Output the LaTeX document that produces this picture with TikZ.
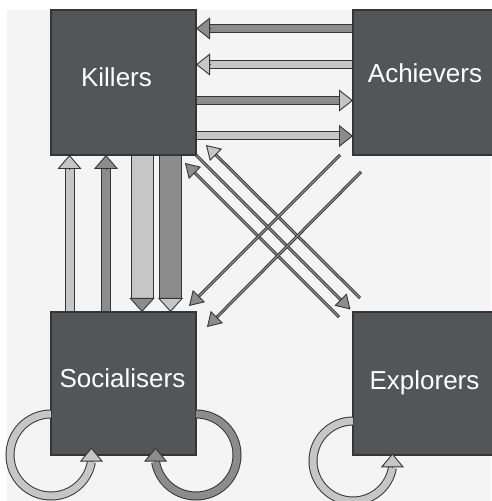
\documentclass[tikz,border=0pt]{standalone}
\usepackage{fontspec}
\setmainfont{Liberation Sans}
\usetikzlibrary{arrows.meta,calc}
\definecolor{bgc}{HTML}{F4F4F4}
\definecolor{boxc}{HTML}{545557}
\definecolor{edgec}{HTML}{353535}
\definecolor{midg}{HTML}{8C8C8C}
\definecolor{lightg}{HTML}{C6C6C6}
% #1 from, #2 to, #3 shaft width, #4 outline width, #5 shaft colour, #6 head colour, #7 head width
\newcommand\fatarrow[7]{%
  \draw[line width=#4, edgec, shorten >=13pt] (#1) -- (#2);
  \draw[line width=#3, #5, shorten >=13pt, shorten <=0.6pt] (#1) -- (#2);
  \draw[line width=0.9pt, edgec, -{Triangle[length=14pt, width=#7, fill=#6]}] ($(#2)!14pt!(#1)$) -- (#2);
}
% #1 from, #2 to, #3 head colour
\newcommand\thinarrow[3]{%
  \draw[line width=3pt, edgec, shorten >=12pt] (#1) -- (#2);
  \draw[line width=1.2pt, midg, shorten >=12pt, shorten <=0.6pt] (#1) -- (#2);
  \draw[line width=0.9pt, edgec, -{Triangle[length=14pt, width=17pt, fill=#3]}] ($(#2)!14pt!(#1)$) -- (#2);
}
\tikzset{
  box/.style={draw=edgec, fill=boxc, line width=1.2pt, inner sep=0pt, outer sep=0pt},
  lbl/.style={text=white, font=\fontsize{26}{30}\selectfont, inner sep=0pt},
  headline/.style={line width=0.9pt, edgec},
}
\begin{document}
\begin{tikzpicture}[x=1pt, y=1pt]
\useasboundingbox (0,0) rectangle (491,501);
\fill[white] (0,0) rectangle (491,501);
\fill[bgc] (7,0) rectangle (491,491);

% boxes
\node[box, minimum width=145pt, minimum height=145pt] (K) at (123.5,418.5) {};
\node[box, minimum width=140pt, minimum height=145pt] (A) at (423,418.5) {};
\node[box, minimum width=145pt, minimum height=143pt] (S) at (123.5,117.5) {};
\node[box, minimum width=140pt, minimum height=143pt] (E) at (423,117.5) {};

\node[lbl, anchor=base] (Kt) at (116.5,414) {Killers};
\node[lbl, anchor=base] (At) at (425,418) {Achievers};
\node[lbl, anchor=base] (St) at (122.5,113) {Socialisers};
\node[lbl, anchor=base] (Et) at (424.5,111) {Explorers};

% horizontal arrows
\coordinate (a1s) at ($(A.north west)+(0,-18.5)$);
\coordinate (a1e) at ($(K.north east)+(0,-18.5)$);
\coordinate (a2s) at ($(A.north west)+(0,-54.5)$);
\coordinate (a2e) at ($(K.north east)+(0,-54.5)$);
\coordinate (a3s) at ($(K.north east)+(0,-90.5)$);
\coordinate (a3e) at ($(A.north west)+(0,-90.5)$);
\coordinate (a4s) at ($(K.north east)+(0,-126)$);
\coordinate (a4e) at ($(A.north west)+(0,-126)$);
\fatarrow{a1s}{a1e}{7pt}{9pt}{midg}{midg}{22pt}
\fatarrow{a2s}{a2e}{7pt}{9pt}{lightg}{lightg}{22pt}
\fatarrow{a3s}{a3e}{7pt}{9pt}{midg}{lightg}{22pt}
\fatarrow{a4s}{a4e}{7pt}{9pt}{lightg}{midg}{22pt}

% vertical arrows
\coordinate (v1s) at ($(S.north west)+(18.5,0)$);
\coordinate (v1e) at ($(K.south west)+(18.5,0)$);
\coordinate (v2s) at ($(S.north west)+(55,0)$);
\coordinate (v2e) at ($(K.south west)+(55,0)$);
\coordinate (d1s) at ($(K.south west)+(91,0)$);
\coordinate (d1e) at ($(S.north west)+(91,0)$);
\coordinate (d2s) at ($(K.south west)+(119.5,0)$);
\coordinate (d2e) at ($(S.north west)+(119.5,0)$);
\fatarrow{v1s}{v1e}{8pt}{10pt}{lightg}{lightg}{24pt}
\fatarrow{v2s}{v2e}{8pt}{10pt}{midg}{midg}{24pt}
\fatarrow{d1s}{d1e}{21pt}{23pt}{lightg}{midg}{25pt}
\fatarrow{d2s}{d2e}{21pt}{23pt}{midg}{lightg}{25pt}

% diagonal arrows
\coordinate (l1e) at ($(E.north west)+(-2.5,2.5)$);
\coordinate (l2s) at ($(E.north west)+(7,14)$);
\coordinate (l2e) at ($(K.south east)+(10,10)$);
\coordinate (l3s) at ($(E.north west)+(-14,-5)$);
\coordinate (l3e) at ($(K.south east)+(-11,-8)$);
\coordinate (u1s) at ($(A.south west)+(-13,0)$);
\coordinate (u1e) at ($(S.north east)+(-7,6)$);
\coordinate (u2s) at ($(A.south west)+(8,-17)$);
\coordinate (u2e) at ($(S.north east)+(11,-15)$);
\thinarrow{K.south east}{l1e}{midg}
\thinarrow{l2s}{l2e}{lightg}
\thinarrow{l3s}{l3e}{midg}
\thinarrow{u1s}{u1e}{midg}
\thinarrow{u2s}{u2e}{midg}

% self loops
\draw[line width=9pt, edgec] ($(S.south west)+(0,41)$) arc[start angle=90, end angle=350, radius=41];
\draw[line width=7pt, lightg] ($(S.south west)+(0,41)$) arc[start angle=90, end angle=350, radius=41];
\draw[headline, -{Triangle[length=14pt, width=23pt, fill=lightg]}] ($(S.south west)+(40.4,-7.1)$) -- ++(0,14.5);

\draw[line width=9pt, edgec] ($(S.south east)+(0,41)$) arc[start angle=90, end angle=-170, radius=41];
\draw[line width=7pt, midg] ($(S.south east)+(0,41)$) arc[start angle=90, end angle=-170, radius=41];
\draw[headline, -{Triangle[length=14pt, width=23pt, fill=midg]}] ($(S.south east)+(-40.4,-7.1)$) -- ++(0,14.5);

\draw[line width=9pt, edgec] ($(E.south west)+(0,34)$) arc[start angle=90, end angle=350, radius=40];
\draw[line width=7pt, lightg] ($(E.south west)+(0,34)$) arc[start angle=90, end angle=350, radius=40];
\draw[headline, -{Triangle[length=14pt, width=23pt, fill=lightg]}] ($(E.south west)+(39.4,-12.9)$) -- ++(0,14.5);
\end{tikzpicture}
\end{document}
